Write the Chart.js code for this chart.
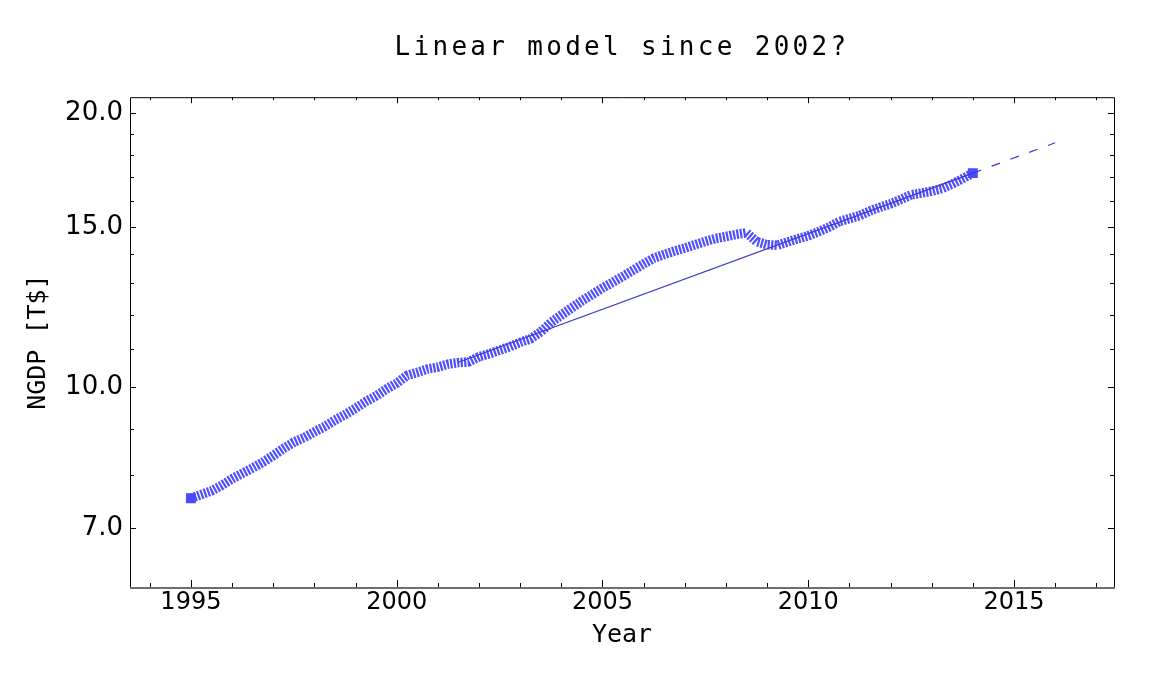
<!DOCTYPE html>
<html>
<head>
<meta charset="utf-8">
<title>Linear model since 2002?</title>
<script src="https://cdn.jsdelivr.net/npm/chart.js@4.4.1/dist/chart.umd.min.js"></script>
<style>
  html, body { margin: 0; padding: 0; background: #fff; }
  #wrap { width: 1152px; height: 677px; }
</style>
</head>
<body>
<div id="wrap"><canvas id="gdpChart"></canvas></div>
<script>
/* ── NGDP CHART ── */

// 1. Data (quarterly NGDP, trillions of dollars)
const quarters = [
  1995.00, 1995.25, 1995.50, 1995.75,
  1996.00, 1996.25, 1996.50, 1996.75,
  1997.00, 1997.25, 1997.50, 1997.75,
  1998.00, 1998.25, 1998.50, 1998.75,
  1999.00, 1999.25, 1999.50, 1999.75,
  2000.00, 2000.25, 2000.50, 2000.75,
  2001.00, 2001.25, 2001.50, 2001.75,
  2002.00, 2002.25, 2002.50, 2002.75,
  2003.00, 2003.25, 2003.50, 2003.75,
  2004.00, 2004.25, 2004.50, 2004.75,
  2005.00, 2005.25, 2005.50, 2005.75,
  2006.00, 2006.25, 2006.50, 2006.75,
  2007.00, 2007.25, 2007.50, 2007.75,
  2008.00, 2008.25, 2008.50, 2008.75,
  2009.00, 2009.25, 2009.50, 2009.75,
  2010.00, 2010.25, 2010.50, 2010.75,
  2011.00, 2011.25, 2011.50, 2011.75,
  2012.00, 2012.25, 2012.50, 2012.75,
  2013.00, 2013.25, 2013.50, 2013.75,
  2014.00
];
const ngdp = [
  7.55, 7.62, 7.69, 7.80,
  7.93, 8.04, 8.15, 8.27,
  8.41, 8.56, 8.70, 8.80,
  8.93, 9.05, 9.20, 9.33,
  9.48, 9.64, 9.78, 9.95,
  10.10, 10.30, 10.38, 10.47,
  10.52, 10.60, 10.64, 10.66,
  10.80, 10.88, 10.98, 11.08,
  11.20, 11.30, 11.50, 11.78,
  12.00, 12.22, 12.44, 12.64,
  12.85, 13.04, 13.24, 13.45,
  13.66, 13.86, 13.99, 14.11,
  14.22, 14.34, 14.46, 14.57,
  14.64, 14.72, 14.78, 14.45,
  14.34, 14.32, 14.44, 14.56,
  14.67, 14.82, 14.99, 15.20,
  15.32, 15.44, 15.62, 15.77,
  15.90, 16.08, 16.27, 16.34,
  16.42, 16.53, 16.72, 16.95,
  17.19
];

// linear (log) model fit and its extrapolation
const modelYears = [2001.5, 2014.0];
const modelValues = [10.65, 17.19];
const forecastYears = [2014.0, 2016.0];
const forecastValues = [17.19, 18.56];

// axes
const xTickYears = [1994, 1995, 1996, 1997, 1998, 1999, 2000, 2001, 2002, 2003, 2004, 2005,
                    2006, 2007, 2008, 2009, 2010, 2011, 2012, 2013, 2014, 2015, 2016, 2017];
const xLabelYears = [1995, 2000, 2005, 2010, 2015];
const yTickValues = [7, 8, 9, 10, 11, 12, 13, 14, 15, 16, 17, 18, 19, 20];
const yLabelValues = [7, 10, 15, 20];

const toXY = (xs, ys) => xs.map((x, i) => ({ x: x, y: ys[i] }));

// 2. Plugin: frame + inward tick marks, and spaced title letters
const framePlugin = {
  id: "frame",
  afterInit(chart) {
    const block = chart.titleBlock;
    if (!block) return;
    const origDraw = block.draw;
    block.draw = function (area) {
      chart.ctx.save();
      chart.ctx.letterSpacing = "3.3px";
      origDraw.call(this, area);
      chart.ctx.restore();
    };
  },
  afterDraw(chart) {
    const { ctx, chartArea: a, scales } = chart;
    ctx.save();
    ctx.lineWidth = 1;
    ctx.strokeStyle = "#000";
    ctx.beginPath();
    xTickYears.forEach((yr) => {
      const px = Math.round(scales.x.getPixelForValue(yr)) + 0.5;
      const len = xLabelYears.includes(yr) ? 7 : 4;
      ctx.moveTo(px, a.bottom);
      ctx.lineTo(px, a.bottom - len);
      ctx.moveTo(px, a.top);
      ctx.lineTo(px, a.top + len - 1);
    });
    yTickValues.forEach((v) => {
      const py = Math.round(scales.y.getPixelForValue(v)) + 0.5;
      const len = yLabelValues.includes(v) ? 6 : 4;
      ctx.moveTo(a.left, py);
      ctx.lineTo(a.left + len, py);
      ctx.moveTo(a.right, py);
      ctx.lineTo(a.right - len, py);
    });
    ctx.stroke();

    // frame
    ctx.beginPath();
    ctx.moveTo(a.left + 0.5, a.bottom);
    ctx.lineTo(a.left + 0.5, a.top + 0.5);
    ctx.lineTo(a.right + 0.5, a.top + 0.5);
    ctx.lineTo(a.right + 0.5, a.bottom);
    ctx.stroke();
    ctx.strokeStyle = "#6e6e6e";
    ctx.lineWidth = 2;
    ctx.beginPath();
    ctx.moveTo(a.left, a.bottom + 1);
    ctx.lineTo(a.right + 1, a.bottom + 1);
    ctx.stroke();
    ctx.restore();
  },
};

// 3. Chart
const lastIdx = ngdp.length - 1;
const xTickFont = { family: "DejaVu Sans", size: 24 };
const yTickFont = { family: "DejaVu Sans", size: 26 };
const monoFont = { family: "DejaVu Sans Mono", size: 25 };

new Chart(document.getElementById("gdpChart").getContext("2d"), {
  type: "line",
  data: {
    datasets: [
      {
        label: "model",
        data: toXY(modelYears, modelValues),
        borderColor: "#3b3bcc",
        borderWidth: 1.2,
        pointRadius: 0,
        fill: false,
        order: 0,
      },
      {
        label: "forecast",
        data: toXY(forecastYears, forecastValues),
        borderColor: "#3b3bcc",
        borderWidth: 1.2,
        borderDash: [9, 11],
        pointRadius: 0,
        fill: false,
        order: 1,
      },
      {
        label: "NGDP",
        data: toXY(quarters, ngdp),
        borderColor: "#4f4fff",
        borderWidth: 9.5,
        borderDash: [2.2, 1.3],
        borderCapStyle: "butt",
        pointStyle: "rect",
        pointRadius: (c) => (c.dataIndex === 0 || c.dataIndex === lastIdx ? 7 : 0),
        pointBackgroundColor: "#4a4aff",
        pointBorderWidth: 0,
        fill: false,
        tension: 0,
        order: 2,
      },
    ],
  },
  options: {
    responsive: true,
    maintainAspectRatio: false,
    animation: false,
    devicePixelRatio: 1,
    layout: { padding: { left: 0, right: 38, top: 0, bottom: 0 } },
    plugins: {
      legend: { display: false },
      tooltip: { enabled: false },
      title: {
        display: true,
        text: "Linear model since 2002?",
        fullSize: false,
        color: "#000",
        font: { family: "DejaVu Sans Mono", size: 26, weight: "normal" },
        padding: { top: 33, bottom: 33 },
      },
    },
    scales: {
      x: {
        type: "linear",
        min: 1993.52,
        max: 2017.43,
        bounds: "data",
        grid: { display: false, drawTicks: false },
        border: { display: false },
        afterBuildTicks: (s) => {
          s.ticks = xTickYears.map((v) => ({ value: v }));
        },
        afterFit: (s) => {
          s.height = 90;
        },
        ticks: {
          autoSkip: false,
          maxRotation: 0,
          padding: 1,
          color: "#000",
          font: xTickFont,
          callback: (v) => (xLabelYears.includes(v) ? String(v) : ""),
        },
        title: {
          display: true,
          text: "Year",
          color: "#000",
          font: monoFont,
          padding: { top: 0, bottom: 27 },
        },
      },
      y: {
        type: "logarithmic",
        min: 6.03,
        max: 20.83,
        bounds: "data",
        grid: { display: false, drawTicks: false },
        border: { display: false },
        afterBuildTicks: (s) => {
          s.ticks = yTickValues.map((v) => ({ value: v }));
        },
        afterFit: (s) => {
          s.width = 130;
        },
        ticks: {
          autoSkip: false,
          padding: 7,
          color: "#000",
          font: yTickFont,
          callback: (v) => (yLabelValues.includes(v) ? v.toFixed(1) : ""),
        },
        title: {
          display: true,
          text: "NGDP [T$]",
          color: "#000",
          font: monoFont,
          padding: { top: 23, bottom: 0 },
        },
      },
    },
  },
  plugins: [framePlugin],
});
</script>
</body>
</html>
